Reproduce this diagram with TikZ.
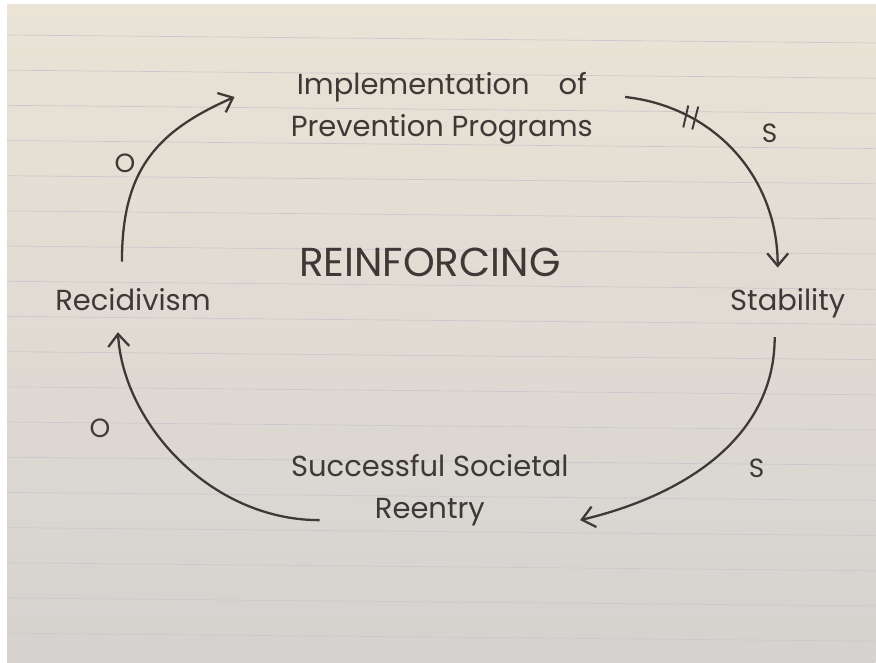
\documentclass[tikz,border=0pt]{standalone}
\usepackage{fontspec}
\setmainfont{Poppins}
\usetikzlibrary{arrows.meta}
\definecolor{ink}{RGB}{62,56,54}
\definecolor{papertop}{RGB}{234,227,214}
\definecolor{paperbot}{RGB}{213,210,207}
\definecolor{ruling}{RGB}{202,201,205}

\begin{document}
\begin{tikzpicture}[x=0.02cm, y=-0.02cm,
  lbl/.style={text=ink, font=\fontsize{16.5}{24}\selectfont, align=center, inner sep=0pt},
  pol/.style={text=ink, font=\fontsize{15}{17}\selectfont, inner sep=0pt},
  link/.style={draw=ink, line width=1.3pt, -{Straight Barb[length=2.5mm, width=4.2mm]}}]
\shade[top color=papertop, bottom color=paperbot] (0,0) rectangle (876,663);
\fill[white] (0,0) rectangle (7,663);
\fill[white] (0,0) rectangle (876,4);
\foreach \i in {0,...,17}
  \draw[ruling, line width=0.4pt] (7,{35+35.2*\i}) -- (876,{43+35.2*\i});
\useasboundingbox (0,0) rectangle (876,663);
\node[lbl, minimum width=7.6cm, minimum height=1.6cm] (impl) at (442,108) {Implementation\quad of\\Prevention Programs};
\node[lbl, minimum width=3.2cm, minimum height=1cm] (stab) at (788,303) {Stability};
\node[lbl, minimum width=6cm, minimum height=1.6cm] (reent) at (430,490) {Successful Societal\\Reentry};
\node[lbl, minimum width=3.8cm, minimum height=1cm] (recid) at (133,300) {Recidivism};
\node[lbl, font=\fontsize{23}{26}\selectfont] (loop) at (430,262) {REINFORCING};
\draw[link] ([xshift=-0.14cm, yshift=0.22cm]impl.east) .. controls +(90,10) and +(0,-90) .. coordinate[pos=0.27] (dly) ([xshift=-0.2cm, yshift=0.2cm]stab.north);
\draw[link] ([xshift=-0.26cm, yshift=-0.18cm]stab.south) .. controls +(0,100) and +(105,-25) .. ([yshift=0.2cm]reent.south east);
\draw[link] ([xshift=0.8cm, yshift=0.2cm]reent.south west) .. controls +(-110,0) and +(5,90) .. ([xshift=-0.3cm, yshift=-0.14cm]recid.south);
\draw[link] ([xshift=-0.22cm, yshift=0.26cm]recid.north) .. controls +(0,-90) and +(-80,35) .. ([xshift=-0.34cm, yshift=0.22cm]impl.west);
\draw[ink, line width=1.1pt] ([shift={(-3,-12)}]dly) -- ([shift={(-8,10)}]dly);
\draw[ink, line width=1.1pt] ([shift={(7,-11)}]dly) -- ([shift={(1,12)}]dly);
\node[pol] (p1) at (770,133) {S};
\node[pol] (p2) at (757,468) {S};
\node[pol] (p3) at (100,428) {O};
\node[pol] (p4) at (125,163) {O};
\end{tikzpicture}
\end{document}
